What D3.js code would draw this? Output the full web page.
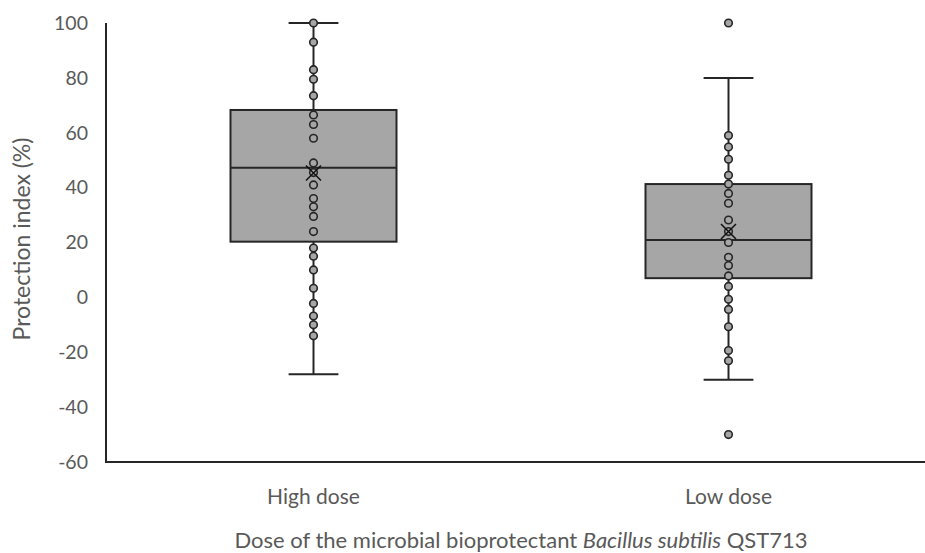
<!DOCTYPE html>
<html>
<head>
<meta charset="utf-8">
<script src="https://cdn.jsdelivr.net/npm/d3@7/dist/d3.min.js"></script>
<style>
  html, body { margin: 0; padding: 0; background: #fff; }
  svg text { font-family: Lato, "Open Sans", sans-serif; fill: #595959; }
</style>
</head>
<body>
<svg id="chart" width="925" height="553"></svg>
<script>
// ---- data ----
const categories = ["High dose", "Low dose"];
const highDosePoints = [100, 93, 83, 79.5, 73.5, 66.5, 63, 58, 49, 45.5, 41, 36, 33, 29.5, 24, 18, 15, 10, 3.3, -2.2, -6.8, -10, -14];
const lowDosePoints = [100, 59, 54.8, 50.3, 44.5, 41.3, 37.9, 34.3, 28.2, 24, 20, 14.6, 11.6, 7.8, 4, -0.7, -4.4, -10.7, -19.4, -23.1, -50];
const whiskerLow = [-28, -30];
const q1 = [20.3, 7.0];
const median = [47.2, 20.9];
const q3 = [68.3, 41.3];
const whiskerHigh = [100, 80];
const means = [45.3, 24];
const yTicks = [-60, -40, -20, 0, 20, 40, 60, 80, 100];
const yTitle = "Protection index (%)";

const pointsByCat = [highDosePoints, lowDosePoints];

// ---- layout ----
const svg = d3.select("#chart");
const plotLeft = 106, plotTop = 23, plotBottom = 462;

const y = d3.scaleLinear().domain([-60, 100]).range([plotBottom, plotTop]);
const x = d3.scaleBand().domain(categories).range([106, 936]).paddingInner(0).paddingOuter(0);

const boxW = x.bandwidth() * 0.4;
const capW = boxW * 0.3;
const strokeCol = "#262626";
const fillCol = "#a6a6a6";
const fontStack = "Lato, 'Open Sans', sans-serif";

// y axis tick labels (plain hyphen minus as in the reference)
const yAxis = d3.axisLeft(y).tickValues(yTicks).tickFormat(d => String(d)).tickSize(0).tickPadding(18);
const yg = svg.append("g").attr("transform", `translate(${plotLeft},0)`).call(yAxis);
yg.select(".domain").remove();
yg.selectAll("text").style("font-size", "19.5px").style("fill", "#595959").style("font-family", fontStack);

// axis lines
svg.append("line").attr("x1", plotLeft).attr("x2", plotLeft).attr("y1", y(100)).attr("y2", y(-60))
  .attr("stroke", strokeCol).attr("stroke-width", 2);

// x axis
const xAxis = d3.axisBottom(x).tickSize(0).tickPadding(27);
const xg = svg.append("g").attr("transform", `translate(0,${plotBottom})`).call(xAxis);
xg.select(".domain").remove();
xg.selectAll("text").style("font-size", "21px").style("fill", "#595959").style("font-family", fontStack);

svg.append("line").attr("x1", plotLeft - 1).attr("x2", 925).attr("y1", plotBottom).attr("y2", plotBottom)
  .attr("stroke", strokeCol).attr("stroke-width", 2);

// boxes
categories.forEach((c, i) => {
  const cx = x(c) + x.bandwidth() / 2;
  const g = svg.append("g");
  g.append("line").attr("x1", cx).attr("x2", cx).attr("y1", y(whiskerHigh[i])).attr("y2", y(q3[i]))
    .attr("stroke", strokeCol).attr("stroke-width", 2);
  g.append("line").attr("x1", cx).attr("x2", cx).attr("y1", y(q1[i])).attr("y2", y(whiskerLow[i]))
    .attr("stroke", strokeCol).attr("stroke-width", 2);
  [whiskerHigh[i], whiskerLow[i]].forEach(v => {
    g.append("line").attr("x1", cx - capW / 2).attr("x2", cx + capW / 2).attr("y1", y(v)).attr("y2", y(v))
      .attr("stroke", strokeCol).attr("stroke-width", 2);
  });
  g.append("rect").attr("x", cx - boxW / 2).attr("width", boxW)
    .attr("y", y(q3[i])).attr("height", y(q1[i]) - y(q3[i]))
    .attr("fill", fillCol).attr("stroke", strokeCol).attr("stroke-width", 2);
  g.append("line").attr("x1", cx - boxW / 2).attr("x2", cx + boxW / 2).attr("y1", y(median[i])).attr("y2", y(median[i]))
    .attr("stroke", strokeCol).attr("stroke-width", 2);
  g.selectAll("circle.pt").data(pointsByCat[i]).enter().append("circle")
    .attr("class", "pt").attr("cx", cx).attr("cy", d => y(d)).attr("r", 3.8)
    .attr("fill", fillCol).attr("stroke", strokeCol).attr("stroke-width", 1.6);
  const my = y(means[i]), s = 7.5;
  g.append("path").attr("d", `M${cx - s},${my - s}L${cx + s},${my + s}M${cx - s},${my + s}L${cx + s},${my - s}`)
    .attr("stroke", "#111").attr("stroke-width", 1.5).attr("fill", "none");
});

// axis titles
svg.append("text").attr("transform", `translate(30,239) rotate(-90)`)
  .attr("text-anchor", "middle").style("font-size", "23px").text(yTitle);

const xt = svg.append("text").attr("x", 521).attr("y", 548).attr("text-anchor", "middle").style("font-size", "22px");
xt.append("tspan").text("Dose of the microbial bioprotectant ");
xt.append("tspan").style("font-style", "italic").text("Bacillus subtilis");
xt.append("tspan").text(" QST713");
</script>
</body>
</html>
